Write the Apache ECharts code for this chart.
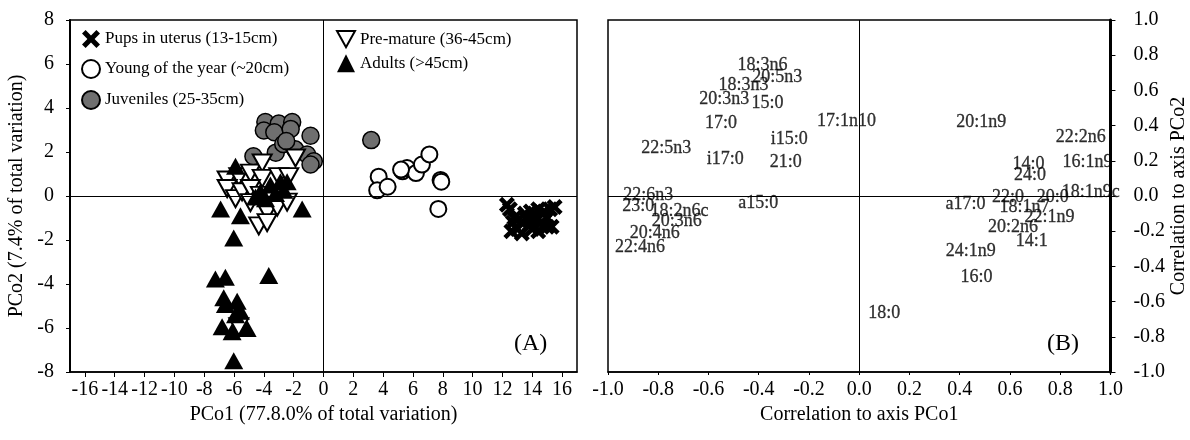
<!DOCTYPE html>
<html>
<head>
<meta charset="utf-8">
<script src="https://cdn.jsdelivr.net/npm/echarts@6/dist/echarts.min.js"></script>
<style>
  html, body { margin: 0; padding: 0; background: #fff; }
  #chart { width: 1190px; height: 440px; }
</style>
</head>
<body>
<div id="chart"></div>
<script>
// PCo scores, panel (A)
const pups = [[12.5,-0.6],[12.8,-1.0],[13.0,-1.5],[13.3,-1.2],[13.5,-0.8],[13.8,-1.3],[14.0,-1.5],[14.2,-0.9],
  [14.4,-0.6],[14.6,-1.2],[14.8,-0.7],[15.0,-1.0],[15.2,-0.6],[15.0,-1.4],[13.6,-1.0],[14.3,-1.1],[12.7,-1.2],[13.9,-0.7],
  [12.3,-0.4],[15.5,-0.5],[15.3,-1.4],[12.6,-1.6],[13.3,-1.7],[14.4,-1.6]]
const young = [[3.7,0.88],[3.6,0.26],[4.3,0.42],[5.3,1.12],[5.6,1.27],[6.2,1.04],[6.6,1.43],[7.1,1.89],
  [7.85,0.73],[7.9,0.65],[7.7,-0.59],[5.2,1.2]]
const juveniles = [[-3.9,3.36],[-3.0,3.29],[-2.1,3.36],[-4.0,2.98],[-3.3,2.9],[-2.2,3.05],[-0.87,2.74],[-4.7,1.81],
  [-3.2,1.97],[-1.9,2.12],[-1.1,1.89],[-0.65,1.58],[-0.87,1.43],[-2.7,2.36],[-2.5,2.5],[3.2,2.54]]
const premature = [[-6.46,0.73],[-5.68,0.88],[-4.9,1.04],[-4.11,1.5],[-4.11,0.8],[-3.0,0.88],[-2.33,0.88],[-1.88,1.73],
  [-6.46,0.34],[-5.9,-0.12],[-5.46,0.19],[-4.9,0.34],[-4.23,0.03],[-3.78,-0.74],[-3.1,-0.51],[-2.44,-0.28],
  [-4.34,-1.36],[-3.78,-1.21],[-5.68,-5.94],[-4.9,-0.3]]
const adults = [[-5.9,1.35],[-6.9,-0.59],[-1.43,-0.59],[-5.57,-0.9],[-6.02,-1.91],[-7.25,-3.77],[-6.58,-3.69],
  [-3.67,-3.61],[-6.69,-4.62],[-6.58,-4.93],[-5.79,-4.78],[-5.57,-5.24],[-5.9,-5.4],[-6.8,-5.94],[-6.13,-6.17],
  [-5.12,-6.02],[-6.02,-7.49],[-4.23,0.19],[-3.56,0.5],[-2.89,0.65],[-2.44,0.65],[-3.22,0.11],[-4.56,-0.05],
  [-3.89,-0.12],[-2.66,0.26]]

// correlations, panel (B)
const corrNames = ['18:3n6','20:5n3','18:3n3','20:3n3','15:0','17:0','17:1n10','i15:0','22:5n3','i17:0','21:0',
  '22:6n3','a15:0','23:0','18:2n6c','20:3n6','20:4n6','22:4n6','18:0','20:1n9','22:2n6','16:1n9','14:0','24:0',
  '18:1n9c','20:0','22:0','a17:0','18:1n7','22:1n9','20:2n6','14:1','24:1n9','16:0']
const corrX = [-0.385,-0.326,-0.461,-0.537,-0.365,-0.55,-0.051,-0.279,-0.768,-0.533,-0.292,
  -0.84,-0.402,-0.88,-0.715,-0.726,-0.814,-0.873,0.1,0.486,0.882,0.909,0.674,0.68,
  0.922,0.77,0.592,0.423,0.658,0.757,0.612,0.687,0.444,0.467]
const corrY = [0.743,0.672,0.631,0.549,0.527,0.413,0.426,0.322,0.274,0.208,0.193,
  0.006,-0.041,-0.057,-0.089,-0.142,-0.212,-0.294,-0.665,0.417,0.335,0.193,0.18,0.119,
  0.024,-0.01,-0.01,-0.047,-0.066,-0.123,-0.18,-0.26,-0.313,-0.464]

const xTicksA = [-16,-14,-12,-10,-8,-6,-4,-2,0,2,4,6,8,10,12,14,16]

const FONT = '"Liberation Serif", "Times New Roman", serif'
const crossPath = 'path://M2,0 L5,3 L8,0 L10,2 L7,5 L10,8 L8,10 L5,7 L2,10 L0,8 L3,5 L0,2 Z'
const downTri = 'path://M0,0 L10,0 L5,9 Z'

const chart = echarts.init(document.getElementById('chart'))

const zeroLines = {
  silent: true,
  symbol: ['none', 'none'],
  label: { show: false },
  lineStyle: { color: '#000', width: 1, type: 'solid' },
  data: [{ xAxis: 0 }, { yAxis: 0 }]
}

chart.setOption({
  animation: false,
  textStyle: { fontFamily: FONT, color: '#000' },
  grid: [
    { left: 70, right: 613, top: 20, bottom: 68, show: true, borderColor: '#000', borderWidth: 1.5 },
    { left: 608, right: 77, top: 20, bottom: 68, show: true, borderColor: '#000', borderWidth: 1.5 }
  ],
  legend: [
    {
      orient: 'vertical', left: 76, top: 25, itemWidth: 18, itemHeight: 18, itemGap: 11,
      textStyle: { fontFamily: FONT, fontSize: 17, color: '#000' },
      data: ['Pups in uterus (13-15cm)', 'Young of the year (~20cm)', 'Juveniles (25-35cm)']
    },
    {
      orient: 'vertical', left: 331, top: 25, itemWidth: 18, itemHeight: 18, itemGap: 6,
      textStyle: { fontFamily: FONT, fontSize: 17, color: '#000' },
      data: ['Pre-mature (36-45cm)', 'Adults (>45cm)']
    }
  ],
  xAxis: [
    {
      gridIndex: 0, type: 'value', min: -17, max: 17,
      name: 'PCo1 (77.8.0% of total variation)', nameLocation: 'middle', nameGap: 27,
      nameTextStyle: { fontFamily: FONT, fontSize: 20, color: '#000' },
      axisLine: { onZero: false, lineStyle: { color: '#000', width: 1.5 } },
      axisTick: { show: true, length: 5, customValues: xTicksA, lineStyle: { color: '#000' } },
      axisLabel: { customValues: xTicksA, fontFamily: FONT, fontSize: 20, color: '#000', margin: 8 },
      splitLine: { show: false }
    },
    {
      gridIndex: 1, type: 'value', min: -1, max: 1, interval: 0.2,
      name: 'Correlation to axis PCo1', nameLocation: 'middle', nameGap: 27,
      nameTextStyle: { fontFamily: FONT, fontSize: 20, color: '#000' },
      axisLine: { onZero: false, lineStyle: { color: '#000', width: 1.5 } },
      axisTick: { show: true, length: 3, lineStyle: { color: '#000' } },
      axisLabel: { fontFamily: FONT, fontSize: 20, color: '#000', margin: 8, formatter: v => v.toFixed(1) },
      splitLine: { show: false }
    }
  ],
  yAxis: [
    {
      gridIndex: 0, type: 'value', min: -8, max: 8, interval: 2,
      name: 'PCo2 (7.4% of total variation)', nameLocation: 'middle', nameGap: 43,
      nameTextStyle: { fontFamily: FONT, fontSize: 20, color: '#000' },
      axisLine: { onZero: false, lineStyle: { color: '#000', width: 2 } },
      axisTick: { show: true, length: 4, lineStyle: { color: '#000' } },
      axisLabel: { fontFamily: FONT, fontSize: 20, color: '#000', margin: 16 },
      splitLine: { show: false }
    },
    {
      gridIndex: 1, type: 'value', min: -1, max: 1, interval: 0.2, position: 'right',
      name: 'Correlation to axis PCo2', nameLocation: 'middle', nameGap: 57,
      nameTextStyle: { fontFamily: FONT, fontSize: 20, color: '#000' },
      axisLine: { onZero: false, lineStyle: { color: '#000', width: 3 } },
      axisTick: { show: true, length: 5, lineStyle: { color: '#000' } },
      axisLabel: { fontFamily: FONT, fontSize: 20, color: '#000', margin: 23, formatter: v => v.toFixed(1) },
      splitLine: { show: false }
    }
  ],
  graphic: [
    { type: 'text', left: 514, top: 332, style: { text: '(A)', font: '24px ' + FONT, fill: '#000' } },
    { type: 'text', left: 1047, top: 332, style: { text: '(B)', font: '24px ' + FONT, fill: '#000' } }
  ],
  series: [
    {
      name: 'Juveniles (25-35cm)', type: 'scatter', xAxisIndex: 0, yAxisIndex: 0,
      symbol: 'circle', symbolSize: 17, data: juveniles,
      itemStyle: { color: '#6f6f6f', borderColor: '#000', borderWidth: 1.5, opacity: 1 },
      markLine: zeroLines
    },
    {
      name: 'Young of the year (~20cm)', type: 'scatter', xAxisIndex: 0, yAxisIndex: 0,
      symbol: 'circle', symbolSize: 16, data: young,
      itemStyle: { color: '#fff', borderColor: '#000', borderWidth: 2, opacity: 1 }
    },
    {
      name: 'Pre-mature (36-45cm)', type: 'scatter', xAxisIndex: 0, yAxisIndex: 0,
      symbol: downTri, symbolSize: [19, 17], data: premature,
      itemStyle: { color: '#fff', borderColor: '#000', borderWidth: 2, opacity: 1 }
    },
    {
      name: 'Adults (>45cm)', type: 'scatter', xAxisIndex: 0, yAxisIndex: 0,
      symbol: 'triangle', symbolSize: [19, 17], data: adults,
      itemStyle: { color: '#000', opacity: 1 }
    },
    {
      name: 'Pups in uterus (13-15cm)', type: 'scatter', xAxisIndex: 0, yAxisIndex: 0,
      symbol: crossPath, symbolSize: 16, data: pups,
      itemStyle: { color: '#000', opacity: 1 }
    },
    {
      name: 'corr', type: 'scatter', xAxisIndex: 1, yAxisIndex: 1,
      symbolSize: 0, silent: true,
      data: corrNames.map((n, i) => ({ name: n, value: [corrX[i], corrY[i]] })),
      label: {
        show: true, position: 'inside', formatter: '{b}',
        fontFamily: FONT, fontSize: 18, color: '#000',
        textBorderColor: '#000', textBorderWidth: 0.3
      },
      markLine: zeroLines
    }
  ]
})
</script>
</body>
</html>
